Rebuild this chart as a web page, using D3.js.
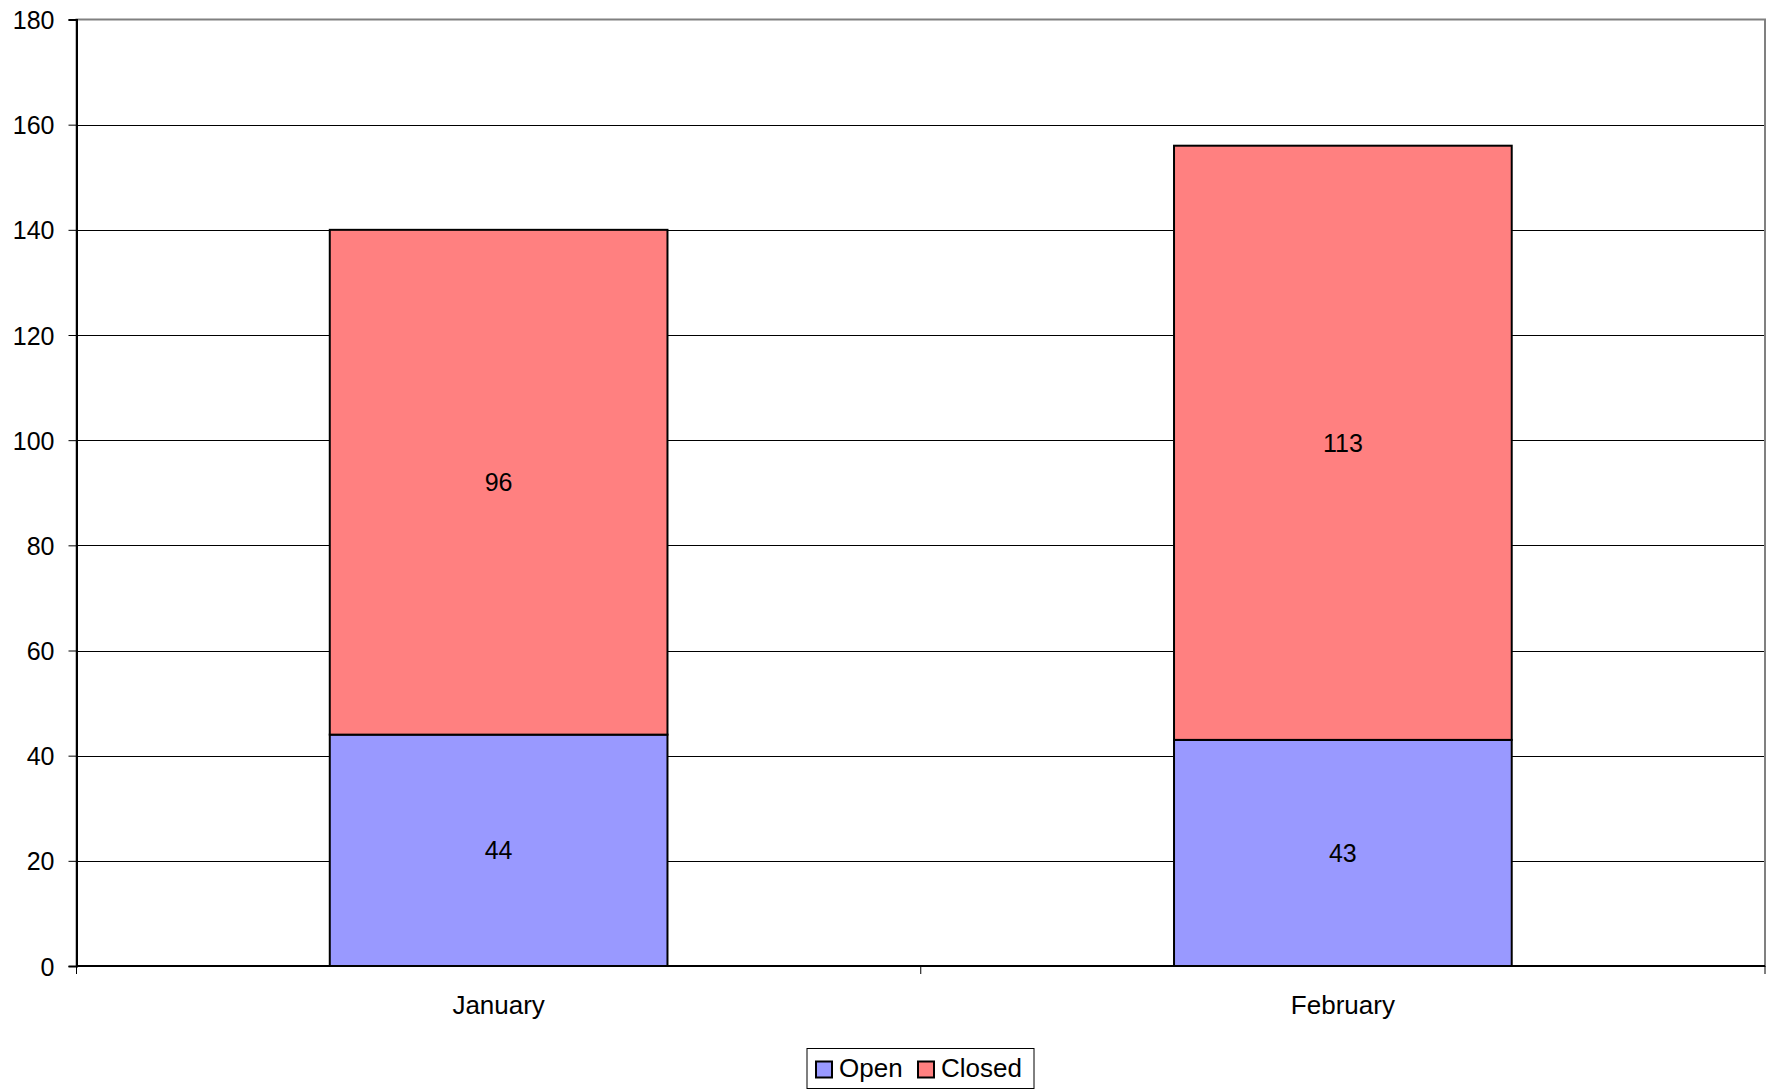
<!DOCTYPE html>
<html><head><meta charset="utf-8">
<script src="https://cdn.jsdelivr.net/npm/d3@7"></script>
<style>body{margin:0;background:#fff}svg{display:block}text{font-family:"Liberation Sans",Arial,sans-serif;fill:#000}</style>
</head><body><svg id="c" width="1773" height="1091"></svg>
<script>
const categories = ["January", "February"];
const seriesNames = ["Open", "Closed"];
const openValues = [44, 43];
const closedValues = [96, 113];
const seriesColors = ["#9999FF", "#FF8080"];
const yTicks = [0, 20, 40, 60, 80, 100, 120, 140, 160, 180];

const svg = d3.select("#c");
const L = 76.5, R = 1765, T = 19.5, B = 966;
const x = d3.scaleBand().domain(categories).range([L, R]).paddingInner(0.6).paddingOuter(0.3);
const y = d3.scaleLinear().domain([0, 180]).range([B, T]);

const rows = categories.map((c, i) => ({cat: c, Open: openValues[i], Closed: closedValues[i]}));
const stacked = d3.stack().keys(seriesNames)(rows);

// gridlines
svg.append("g").selectAll("line").data(yTicks.slice(1, -1)).join("line")
  .attr("x1", L).attr("x2", R).attr("y1", d => Math.round(y(d)) + 0.5).attr("y2", d => Math.round(y(d)) + 0.5)
  .attr("stroke", "#000").attr("stroke-width", 1);

// frame
svg.append("rect").attr("x", L).attr("y", T).attr("width", R - L).attr("height", B - T)
  .attr("fill", "none").attr("stroke", "#808080").attr("stroke-width", 2);

// bars
stacked.forEach((s, si) => {
  svg.append("g").selectAll("rect").data(s).join("rect")
    .attr("x", d => x(d.data.cat)).attr("width", x.bandwidth())
    .attr("y", d => y(d[1])).attr("height", d => y(d[0]) - y(d[1]))
    .attr("fill", seriesColors[si]).attr("stroke", "#000").attr("stroke-width", 2);
  svg.append("g").selectAll("text").data(s).join("text")
    .attr("x", d => x(d.data.cat) + x.bandwidth() / 2)
    .attr("y", d => (y(d[0]) + y(d[1])) / 2 + 9)
    .attr("text-anchor", "middle").attr("font-size", 25)
    .text(d => d[1] - d[0]);
});

// y axis
const yAxis = d3.axisLeft(y).tickValues(yTicks).tickSize(8).tickPadding(14);
const ya = svg.append("g").attr("transform", `translate(${L},0)`).call(yAxis);
ya.select(".domain").attr("stroke", "#000").attr("stroke-width", 2);
ya.selectAll(".tick line").attr("stroke", "#000");
ya.selectAll("text").attr("font-size", 25).attr("font-family", '"Liberation Sans",Arial,sans-serif').attr("dy", "0.36em");

// x axis
const xa = svg.append("g").attr("transform", `translate(0,${B})`);
xa.append("line").attr("x1", L).attr("x2", R).attr("stroke", "#000").attr("stroke-width", 2);
const boundaries = [L, (L + R) / 2, R];
xa.selectAll("line.t").data(boundaries).join("line").attr("class", "t")
  .attr("x1", d => d).attr("x2", d => d).attr("y1", 0).attr("y2", 8).attr("stroke", "#000");
xa.selectAll("text").data(categories).join("text")
  .attr("x", d => x(d) + x.bandwidth() / 2).attr("y", 48)
  .attr("text-anchor", "middle").attr("font-size", 26).text(d => d);

// legend
const lg = svg.append("g");
lg.append("rect").attr("x", 807).attr("y", 1048.5).attr("width", 227).attr("height", 40)
  .attr("fill", "#fff").attr("stroke", "#000").attr("stroke-width", 1);
const legendX = [815, 917];
seriesNames.forEach((n, i) => {
  lg.append("rect").attr("x", legendX[i] + 1).attr("y", 1061.5).attr("width", 16).attr("height", 16)
    .attr("fill", seriesColors[i]).attr("stroke", "#000").attr("stroke-width", 2);
  lg.append("text").attr("x", legendX[i] + 24).attr("y", 1077).attr("font-size", 26).text(n);
});
</script></body></html>
